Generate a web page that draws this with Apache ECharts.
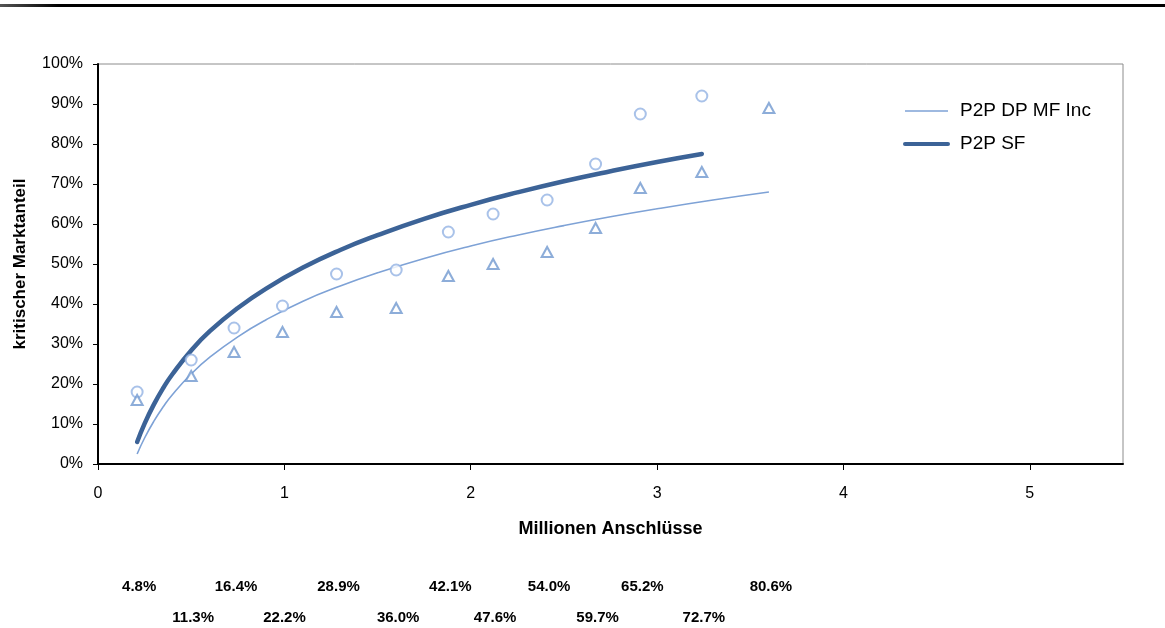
<!DOCTYPE html>
<html><head><meta charset="utf-8">
<script src="https://cdn.jsdelivr.net/npm/echarts@6/dist/echarts.min.js"></script>
<style>html,body{margin:0;padding:0;background:#fff}#c{width:1165px;height:628px}</style>
</head><body><div id="c"></div>
<script>
// Data
const xPoints = [0.21, 0.5, 0.73, 0.99, 1.28, 1.6, 1.88, 2.12, 2.41, 2.67, 2.91, 3.24, 3.6];
const circleVals = [18, 26, 34, 39.5, 47.5, 48.5, 58, 62.5, 66, 75, 87.5, 92];
const triangleVals = [16, 22, 28, 33, 38, 39, 47, 50, 53, 59, 69, 73, 89];
const sfCurveX = [0.21, 0.25, 0.3, 0.35, 0.4, 0.5, 0.6, 0.75, 0.9, 1.1, 1.3, 1.5, 1.75, 2, 2.25, 2.5, 2.75, 3, 3.24];
const sfCurveY = [5.5, 10.1, 14.9, 19.0, 22.5, 28.4, 33.2, 39.0, 43.8, 49.1, 53.5, 57.2, 61.3, 64.8, 67.9, 70.7, 73.2, 75.5, 77.5];
const dpCurveX = [0.21, 0.25, 0.3, 0.35, 0.4, 0.5, 0.6, 0.75, 0.9, 1.1, 1.3, 1.5, 1.75, 2, 2.25, 2.5, 2.75, 3, 3.3, 3.6];
const dpCurveY = [2.5, 6.5, 10.7, 14.3, 17.4, 22.5, 26.7, 31.8, 36.0, 40.7, 44.5, 47.8, 51.4, 54.5, 57.2, 59.6, 61.8, 63.8, 66.0, 68.0];
const shareLabels = ['4.8%', '11.3%', '16.4%', '22.2%', '28.9%', '36.0%', '42.1%', '47.6%', '54.0%', '59.7%', '65.2%', '72.7%', '80.6%'];
const xTicks = [0, 1, 2, 3, 4, 5];
const seriesNames = ['P2P DP MF Inc', 'P2P SF'];

const FONT = '"Liberation Sans", Arial, sans-serif';
const pair = (xs, ys) => xs.map((x, i) => [x, ys[i]]);

const chart = echarts.init(document.getElementById('c'), null, {renderer: 'canvas'});
const option = {
  animation: false,
  backgroundColor: '#fff',
  textStyle: {fontFamily: FONT},
  grid: {left: 98, right: 42, top: 64, bottom: 164, show: true, borderColor: '#8c8c8c', borderWidth: 1},
  legend: {
    data: [
      {name: seriesNames[0], lineStyle: {width: 1.6}},
      {name: seriesNames[1], lineStyle: {width: 4}}
    ],
    orient: 'vertical', left: 898, top: 96,
    itemWidth: 43, itemHeight: 14, itemGap: 13,
    itemStyle: {opacity: 0},
    textStyle: {fontFamily: FONT, fontSize: 19, color: '#000', lineHeight: 20, padding: [0, 0, 0, 7]}
  },
  xAxis: {
    type: 'value', min: 0, max: 5.5, interval: 1,
    name: 'Millionen Anschlüsse', nameLocation: 'middle', nameGap: 56,
    nameTextStyle: {fontFamily: FONT, fontSize: 18, fontWeight: 'bold', color: '#000'},
    axisLine: {show: true, onZero: false, lineStyle: {color: '#000', width: 2}},
    axisTick: {show: true, length: 6, lineStyle: {color: '#000', width: 1}, customValues: xTicks},
    axisLabel: {fontFamily: FONT, fontSize: 16, color: '#000', margin: 22, customValues: xTicks},
    splitLine: {show: false}
  },
  yAxis: {
    type: 'value', min: 0, max: 100, interval: 10,
    name: 'kritischer Marktanteil', nameLocation: 'middle', nameGap: 69, nameRotate: 90,
    nameTextStyle: {fontFamily: FONT, fontSize: 17, fontWeight: 'bold', color: '#000'},
    axisLine: {show: true, lineStyle: {color: '#000', width: 2}},
    axisTick: {show: true, length: 5, lineStyle: {color: '#000', width: 1}},
    axisLabel: {fontFamily: FONT, fontSize: 16, color: '#000', margin: 15, formatter: v => v + '%'},
    splitLine: {show: false}
  },
  series: [
    {name: seriesNames[0], type: 'line', data: pair(dpCurveX, dpCurveY), smooth: true, symbol: 'none',
     lineStyle: {color: '#7ea2d6', width: 1.6}, itemStyle: {color: '#7ea2d6'}, z: 3},
    {name: seriesNames[1], type: 'line', data: pair(sfCurveX, sfCurveY), smooth: true, symbol: 'none',
     lineStyle: {color: '#3c6397', width: 4.5, cap: 'round'}, itemStyle: {color: '#3c6397'}, z: 4},
    {name: 'circles', type: 'scatter', data: pair(xPoints.slice(0, circleVals.length), circleVals),
     symbol: 'emptyCircle', symbolSize: 11, itemStyle: {color: '#93b3e3', borderWidth: 1.5}, z: 5},
    {name: 'triangles', type: 'scatter', data: pair(xPoints, triangleVals),
     symbol: 'emptyTriangle', symbolSize: [11, 10], itemStyle: {color: '#7198cf', borderWidth: 1.5}, z: 5}
  ],
  graphic: []
};
chart.setOption(option);

const graphics = [{
  type: 'rect', shape: {x: 0, y: 4, width: 1165, height: 3},
  style: {fill: new echarts.graphic.LinearGradient(0, 0, 1, 0, [{offset: 0, color: '#555'}, {offset: 0.05, color: '#000'}, {offset: 1, color: '#000'}])},
  silent: true
}];
shareLabels.forEach((t, i) => {
  const px = chart.convertToPixel({xAxisIndex: 0}, xPoints[i]) + 2;
  graphics.push({
    type: 'text', x: px, y: i % 2 === 0 ? 587 : 618,
    style: {text: t, fill: '#000', font: 'bold 15px ' + FONT, textAlign: 'center', textVerticalAlign: 'middle'},
    silent: true
  });
});
chart.setOption({graphic: graphics});
</script></body></html>
